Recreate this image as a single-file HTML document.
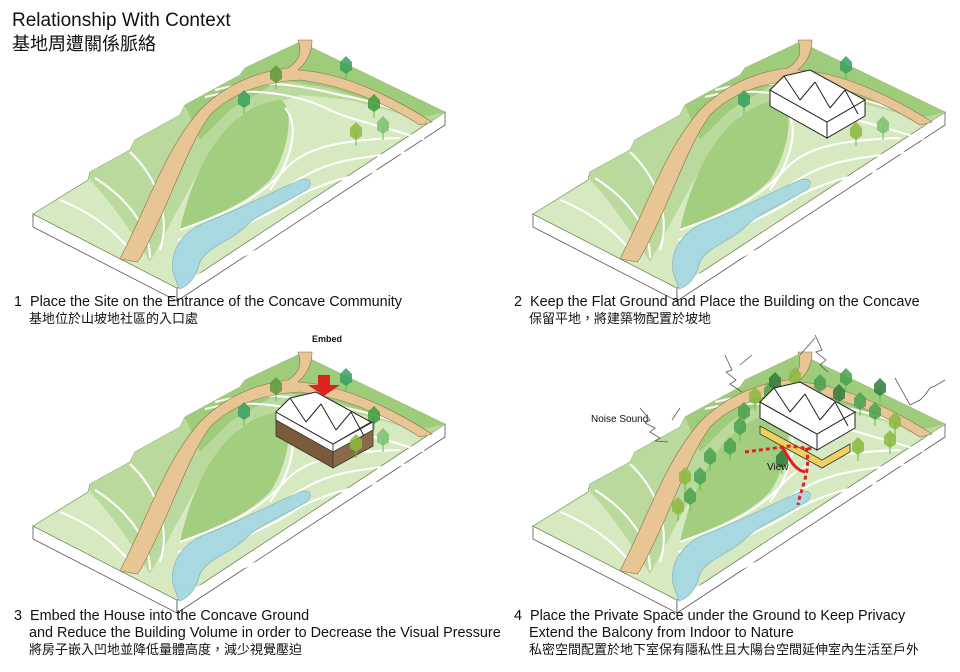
<!DOCTYPE html>
<html><head><meta charset="utf-8"><style>
html,body{margin:0;padding:0;background:#fff;}
svg{display:block}
text{font-family:"Liberation Sans","Noto Sans CJK TC",sans-serif;fill:#111}
</style></head><body>
<svg width="960" height="672" viewBox="0 0 960 672" xmlns="http://www.w3.org/2000/svg">
<defs>
<g id="terrain">
  <polygon points="33,214 177,288 177,301 33,227" fill="#fff" stroke="#555" stroke-width="0.8"/>
  <polygon points="177,288 445,112 445,125 177,301" fill="#fff" stroke="#555" stroke-width="0.8"/>
  <polygon points="33,214 88,180 90,172 130,150 135,140 180,115 185,105 240,75 245,68 300,42 445,112 177,288" fill="#d6e9c1" stroke="#6a8a50" stroke-width="0.6"/>
  <path d="M90,172 130,150 135,140 180,115 185,105 240,75 245,68 300,42 445,112 430,122 350,100 300,95 240,115 205,160 175,215 150,262 C130,230 110,200 90,180 Z" fill="#b9da9c"/>
  <path d="M185,105 240,75 245,68 300,42 445,112 420,118 330,88 280,80 230,110 200,140 Z" fill="#9fcc7b"/>
  <path d="M180,230 C195,160 230,105 280,100 C295,105 290,150 270,180 C245,205 215,215 180,230 Z" fill="#a3ce80"/>
  <g fill="none" stroke="#fff" stroke-width="2">
    <path d="M60,200 C110,220 130,250 140,262"/>
    <path d="M95,178 C130,200 150,230 150,258"/>
    <path d="M130,152 C160,180 170,220 160,250"/>
    <path d="M180,230 C220,215 250,205 280,175 C300,150 330,140 400,138"/>
    <path d="M178,240 C220,225 260,210 290,185 C320,165 340,158 412,152"/>
    <path d="M178,250 C220,236 270,216 300,195 C330,180 360,172 422,164"/>
    <path d="M205,97 C250,85 300,95 330,110 C350,120 380,125 425,140"/>
    <path d="M215,90 C260,78 300,85 340,95 C370,100 400,110 432,125"/>
    <path d="M285,108 C300,125 292,160 270,190"/>
    <path d="M182,282 C215,268 240,255 300,235 C350,215 390,195 440,168"/>
  </g>
  <path d="M120,259 C150,200 165,150 200,110 C225,85 255,72 288,68 C300,60 302,52 298,40 L312,40 C312,55 305,64 298,70 C340,72 390,95 432,122 L420,125 C380,100 340,85 300,80 C260,82 230,95 210,115 C185,150 170,205 138,262 Z" fill="#e8c594" stroke="#8a7050" stroke-width="0.6"/>
  <path d="M173,272 C170,250 182,232 206,222 C238,210 270,193 300,180 C312,176 314,186 303,192 C282,204 258,214 246,226 C230,242 208,246 200,262 C196,276 190,286 179,289 Z" fill="#a9d9e0" stroke="#7ab" stroke-width="0.6"/>
</g>
<g id="tree"><line x1="0" y1="0" x2="0" y2="14" stroke="#6b4" stroke-width="1"/><path d="M-6,4 L-6,-4 0,-10 6,-4 6,4 0,8 Z" fill="currentColor" opacity="0.85"/></g>
<g id="roof">
  <polygon points="0,20 14,6 40,0 95,30 57,52" fill="#fff" stroke="#222" stroke-width="1"/>
  <path d="M14,6 L30,30 M30,30 L45,12 M45,12 L60,38 M60,38 L75,20 M75,20 L88,44" stroke="#222" fill="none" stroke-width="1"/>
</g>
<g id="bld">
  <polygon points="0,20 57,52 57,68 0,36" fill="#fff" stroke="#222" stroke-width="1"/>
  <polygon points="57,52 95,30 95,46 57,68" fill="#fff" stroke="#222" stroke-width="1"/>
  <use href="#roof"/>
</g>
</defs>

<text x="12" y="26" font-size="19">Relationship With Context</text>
<text x="12" y="50" font-size="18">基地周遭關係脈絡</text>

<use href="#terrain"/>
<g style="color:#5a9a3a"><use href="#tree" x="276" y="75"/></g>
<g style="color:#3aa060"><use href="#tree" x="244" y="100"/><use href="#tree" x="346" y="66"/></g>
<g style="color:#3c9a3c"><use href="#tree" x="374" y="104"/></g>
<g style="color:#7cc070"><use href="#tree" x="383" y="126"/></g>
<g style="color:#8cb840"><use href="#tree" x="356" y="132"/></g>

<g transform="translate(500,0)"><use href="#terrain"/>
<g style="color:#3aa060"><use href="#tree" x="244" y="100"/><use href="#tree" x="346" y="66"/></g>
<g style="color:#7cc070"><use href="#tree" x="383" y="126"/></g>
<g style="color:#8cb840"><use href="#tree" x="356" y="132"/></g>
<use href="#bld" x="270" y="70"/></g>

<g transform="translate(0,312)"><use href="#terrain"/>
<g style="color:#5a9a3a"><use href="#tree" x="276" y="75"/></g>
<g style="color:#3aa060"><use href="#tree" x="244" y="100"/><use href="#tree" x="346" y="66"/></g>
<g style="color:#3c9a3c"><use href="#tree" x="374" y="104"/></g>
<g style="color:#7cc070"><use href="#tree" x="383" y="126"/></g>
</g>
<g transform="translate(276,392)">
  <polygon points="0,20 57,52 57,76 0,44" fill="#7a5a3a" stroke="#333" stroke-width="0.8"/>
  <polygon points="57,52 97,30 97,54 57,76" fill="#8a6a48" stroke="#333" stroke-width="0.8"/>
  <polygon points="0,20 57,52 57,60 0,28" fill="#fff" stroke="#333" stroke-width="0.8"/>
  <polygon points="57,52 97,30 97,38 57,60" fill="#fff" stroke="#333" stroke-width="0.8"/>
  <use href="#roof"/>
</g>
<polygon points="318,375 330,375 330,385 340,385 324,396 308,385 318,385" fill="#d22"/>
<text x="312" y="342" font-size="9" font-weight="bold">Embed</text>
<g style="color:#8cb840"><use href="#tree" x="356" y="444"/></g>

<g transform="translate(500,312)"><use href="#terrain"/>
<g style="color:#4aa050">
<use href="#tree" x="244" y="100"/><use href="#tree" x="346" y="66"/><use href="#tree" x="270" y="80"/><use href="#tree" x="280" y="95"/><use href="#tree" x="320" y="72"/><use href="#tree" x="360" y="90"/><use href="#tree" x="375" y="100"/><use href="#tree" x="240" y="115"/><use href="#tree" x="230" y="135"/><use href="#tree" x="210" y="145"/><use href="#tree" x="200" y="165"/><use href="#tree" x="190" y="185"/></g>
<g style="color:#8cb840"><use href="#tree" x="255" y="85"/><use href="#tree" x="295" y="65"/><use href="#tree" x="395" y="110"/><use href="#tree" x="185" y="165"/><use href="#tree" x="178" y="195"/><use href="#tree" x="390" y="128"/><use href="#tree" x="358" y="135"/></g>
<g style="color:#2f7a3a"><use href="#tree" x="275" y="70"/><use href="#tree" x="339" y="82"/><use href="#tree" x="282" y="148"/><use href="#tree" x="380" y="76"/></g>
</g>
<polygon points="760,426 822,460 850,444 850,452 822,468 760,434" fill="#f2d060" stroke="#333" stroke-width="0.8"/>
<use href="#bld" x="760" y="382"/>
<path d="M745,452 L790,446 L812,449" stroke="#d22" stroke-width="3" stroke-dasharray="4,3" fill="none"/>
<path d="M806,448 C812,470 800,490 798,505" stroke="#d22" stroke-width="3" stroke-dasharray="4,3" fill="none"/>
<path d="M782,447 C790,460 795,470 805,472" stroke="#d22" stroke-width="3" fill="none"/>
<text x="767" y="470" font-size="10">View</text>
<text x="591" y="422" font-size="10">Noise Sound</text>
<g stroke="#555" fill="none" stroke-width="0.8">
<path d="M640,408 L650,420 645,423 655,428 650,432 660,438 655,441 668,442"/>
<path d="M725,355 L732,370 726,372 736,380 730,384 742,392"/>
<path d="M815,335 L822,350 816,352 826,360 820,365 828,372"/>
<path d="M895,378 L910,405 920,400 925,395 930,388 935,386 945,380"/>
<path d="M680,408 L672,420"/><path d="M740,365 L752,355"/><path d="M800,355 L815,338"/>
</g>
<text x="14" y="306" font-size="14.4">1&#160;&#160;Place the Site on the Entrance of the Concave Community</text>
<text x="29" y="323" font-size="13">基地位於山坡地社區的入口處</text>
<text x="514" y="306" font-size="14.4">2&#160;&#160;Keep the Flat Ground and Place the Building on the Concave</text>
<text x="529" y="323" font-size="13">保留平地，將建築物配置於坡地</text>
<text x="14" y="620" font-size="14.4">3&#160;&#160;Embed the House into the Concave Ground</text>
<text x="29" y="637" font-size="14.4">and Reduce the Building Volume in order to Decrease the Visual Pressure</text>
<text x="29" y="654" font-size="13">將房子嵌入凹地並降低量體高度，減少視覺壓迫</text>
<text x="514" y="620" font-size="14.4">4&#160;&#160;Place the Private Space under the Ground to Keep Privacy</text>
<text x="529" y="637" font-size="14.4">Extend the Balcony from Indoor to Nature</text>
<text x="529" y="654" font-size="13">私密空間配置於地下室保有隱私性且大陽台空間延伸室內生活至戶外</text>
</svg>
</body></html>
